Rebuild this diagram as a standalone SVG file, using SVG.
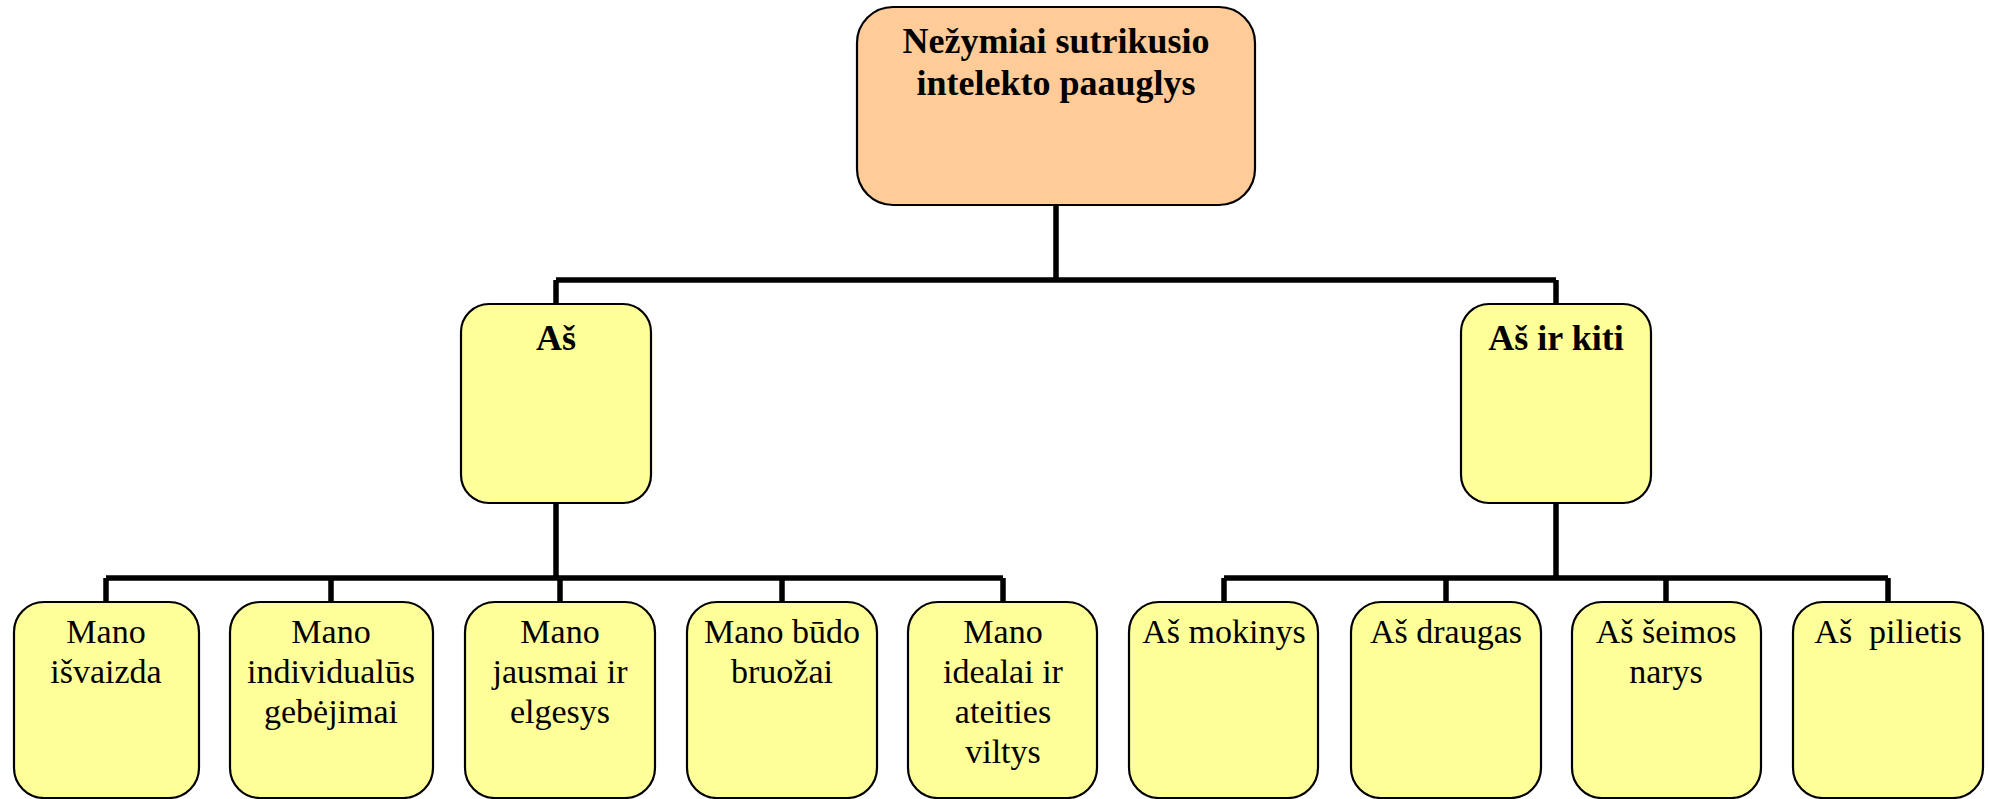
<svg xmlns="http://www.w3.org/2000/svg" width="1989" height="799" viewBox="0 0 1989 799">
<style>
.box{stroke:#000;stroke-width:2.2}
.root{fill:#FFCC99}
.y{fill:#FFFF99}
.t{font-family:"Liberation Serif","Times New Roman",serif;fill:#000;text-anchor:middle}
.b{font-weight:bold;font-size:36px}
.n{font-size:34px}
.c{fill:none;stroke:#000;stroke-width:5.5;stroke-linejoin:miter;stroke-linecap:butt}
</style>
<rect width="1989" height="799" fill="#fff"/>
<g id="connectors">
<path class="c" d="M1056 205V280M556 280H1556M556 280V304M1556 280V304"/>
<path class="c" d="M556 503V578M106 578H1003M106 578V602M331 578V602M560 578V602M782 578V602M1003 578V602"/>
<path class="c" d="M1556 503V578M1224 578H1888M1224 578V602M1446 578V602M1666 578V602M1888 578V602"/>
</g>
<g id="root">
<rect class="box root" x="857" y="7" width="398" height="198" rx="36"/>
<text class="t b" x="1056" y="53">Nežymiai sutrikusio</text>
<text class="t b" x="1056" y="95">intelekto paauglys</text>
</g>
<g id="as">
<rect class="box y" x="461" y="304" width="190" height="199" rx="28"/>
<text class="t b" x="556" y="350">Aš</text>
</g>
<g id="as-ir-kiti">
<rect class="box y" x="1461" y="304" width="190" height="199" rx="28"/>
<text class="t b" x="1556" y="350">Aš ir kiti</text>
</g>
<g id="isvaizda">
<rect class="box y" x="14" y="602" width="185" height="196" rx="30"/>
<text class="t n" x="106" y="643">Mano</text>
<text class="t n" x="106" y="683">išvaizda</text>
</g>
<g id="gebejimai">
<rect class="box y" x="230" y="602" width="203" height="196" rx="30"/>
<text class="t n" x="331" y="643">Mano</text>
<text class="t n" x="331" y="683">individualūs</text>
<text class="t n" x="331" y="723">gebėjimai</text>
</g>
<g id="jausmai">
<rect class="box y" x="465" y="602" width="190" height="196" rx="30"/>
<text class="t n" x="560" y="643">Mano</text>
<text class="t n" x="560" y="683">jausmai ir</text>
<text class="t n" x="560" y="723">elgesys</text>
</g>
<g id="budo">
<rect class="box y" x="687" y="602" width="190" height="196" rx="30"/>
<text class="t n" x="782" y="643">Mano būdo</text>
<text class="t n" x="782" y="683">bruožai</text>
</g>
<g id="idealai">
<rect class="box y" x="908" y="602" width="189" height="196" rx="30"/>
<text class="t n" x="1003" y="643">Mano</text>
<text class="t n" x="1003" y="683">idealai ir</text>
<text class="t n" x="1003" y="723">ateities</text>
<text class="t n" x="1003" y="763">viltys</text>
</g>
<g id="mokinys">
<rect class="box y" x="1129" y="602" width="189" height="196" rx="30"/>
<text class="t n" x="1224" y="643">Aš mokinys</text>
</g>
<g id="draugas">
<rect class="box y" x="1351" y="602" width="190" height="196" rx="30"/>
<text class="t n" x="1446" y="643">Aš draugas</text>
</g>
<g id="seimos">
<rect class="box y" x="1572" y="602" width="189" height="196" rx="30"/>
<text class="t n" x="1666" y="643">Aš šeimos</text>
<text class="t n" x="1666" y="683">narys</text>
</g>
<g id="pilietis">
<rect class="box y" x="1793" y="602" width="190" height="196" rx="30"/>
<text class="t n" x="1888" y="643" xml:space="preserve">Aš  pilietis</text>
</g>
</svg>
